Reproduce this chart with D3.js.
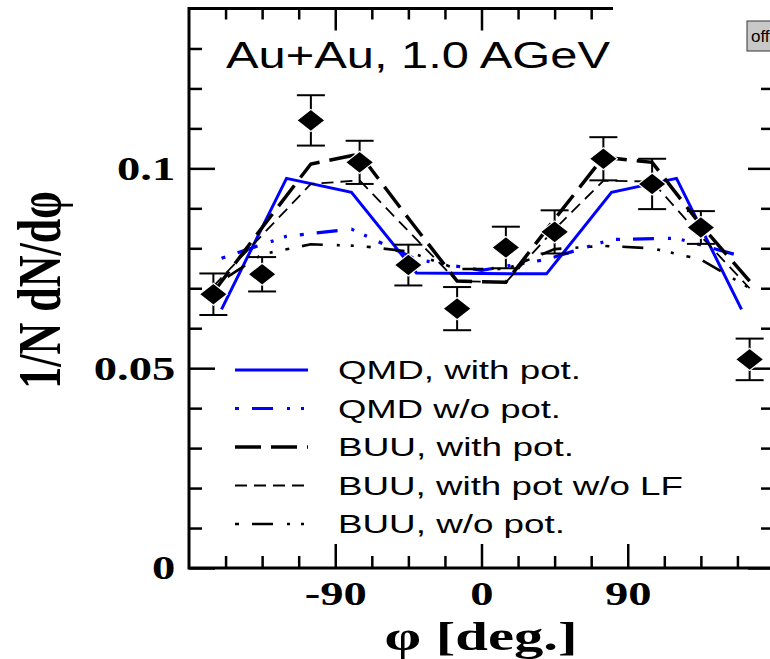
<!DOCTYPE html>
<html>
<head>
  <title>Au+Au 1.0 AGeV: 1/N dN/dphi</title>
  <style>
    body { margin: 0; background: #fff; }
    .axis path { display: none; }
    .axis line { stroke: #000; stroke-width: 2.5px; }
    .axis text {
      font-family: "Liberation Serif", "Times New Roman", serif;
      font-weight: bold;
      font-size: 34px;
      fill: #000;
    }
    .frame { fill: none; stroke: #000; stroke-width: 3px; }
    .curve { fill: none; }
    .errbar { stroke: #000; stroke-width: 2px; }
    .diamond { fill: #000; stroke: #fff; stroke-width: 1.2px; }
    .legend text, .title {
      font-family: "Liberation Sans", Arial, sans-serif;
      fill: #000;
    }
    .label {
      font-family: "Liberation Serif", "Times New Roman", serif;
      font-weight: bold;
      fill: #000;
    }
  </style>
</head>
<body>
  <svg id="chart" width="770" height="659"></svg>

  <script src="https://d3js.org/d3.v7.min.js"></script>
  <script>
    // measured points, 30 deg bins
    const dataAngle = [-165, -135, -105, -75, -45, -15, 15, 45, 75, 105, 135, 165];
    const dataValue = [0.0685, 0.0735, 0.1120, 0.1015, 0.0758, 0.0649, 0.0802, 0.0841, 0.1024, 0.0961, 0.0852, 0.0522];
    const dataError = [0.0052, 0.0043, 0.0063, 0.0054, 0.0051, 0.0054, 0.0052, 0.0054, 0.0054, 0.0063, 0.0041, 0.0052];

    // QMD curves, 40 deg bins
    const qmdAngle = [-160, -120, -80, -40, 0, 40, 80, 120, 160];
    const qmdPot = [0.0647, 0.0975, 0.0940, 0.0738, 0.0737, 0.0736, 0.0940, 0.0975, 0.0647];
    const qmdNoPot = [0.0775, 0.0830, 0.0848, 0.0772, 0.0745, 0.0772, 0.0822, 0.0825, 0.0780];

    // BUU curves, same bins as the data
    const buuPot = [0.0690, 0.0852, 0.1011, 0.1036, 0.0875, 0.0718, 0.0715, 0.0873, 0.1028, 0.1015, 0.0858, 0.0718];
    const buuPotNoLF = [0.0705, 0.0833, 0.0961, 0.0970, 0.0843, 0.0718, 0.0715, 0.0848, 0.0969, 0.0967, 0.0830, 0.0700];
    const buuNoPot = [0.0705, 0.0785, 0.0810, 0.0806, 0.0792, 0.0748, 0.0748, 0.0798, 0.0806, 0.0800, 0.0772, 0.0700];

    const xMajor = [-90, 0, 90];
    const xMinor = [-157.5, -135, -112.5, -67.5, -45, -22.5, 22.5, 45, 67.5, 112.5, 135, 157.5];
    const yMajor = [0, 0.05, 0.1];
    const yMinor = [0.01, 0.02, 0.03, 0.04, 0.06, 0.07, 0.08, 0.09, 0.11, 0.12, 0.13];

    const margin = { top: 8.5, left: 189 };
    const width = 585;
    const height = 559.5;

    const svg = d3.select("#chart");
    const g = svg.append("g").attr("transform", `translate(${margin.left},${margin.top})`);

    const x = d3.scaleLinear().domain([-180, 180]).range([0, width]);
    const y = d3.scaleLinear().domain([0, 0.14]).range([height, 0]);

    // axes, ticks pointing inwards
    g.append("g").attr("class", "axis").attr("transform", `translate(0,${height})`)
      .call(d3.axisBottom(x).tickValues(xMajor).tickSize(-24).tickPadding(13).tickFormat(d => String(d)))
      .selectAll("text").attr("transform", "scale(1.37,1)");
    g.append("g").attr("class", "axis").attr("transform", `translate(0,${height})`)
      .call(d3.axisBottom(x).tickValues(xMinor).tickSize(-12).tickFormat(""));
    g.append("g").attr("class", "axis")
      .call(d3.axisTop(x).tickValues(xMajor).tickSize(-22).tickFormat(""));
    g.append("g").attr("class", "axis")
      .call(d3.axisTop(x).tickValues(xMinor).tickSize(-11).tickFormat(""));

    g.append("g").attr("class", "axis")
      .call(d3.axisLeft(y).tickValues(yMajor).tickSize(-26).tickPadding(10).tickFormat(d => String(d)))
      .selectAll("text").attr("transform", "scale(1.37,1)");
    g.append("g").attr("class", "axis")
      .call(d3.axisLeft(y).tickValues(yMinor).tickSize(-13).tickFormat(""));
    g.append("g").attr("class", "axis").attr("transform", `translate(${width},0)`)
      .call(d3.axisRight(y).tickValues(yMajor).tickSize(-26).tickFormat(""));
    g.append("g").attr("class", "axis").attr("transform", `translate(${width},0)`)
      .call(d3.axisRight(y).tickValues(yMinor).tickSize(-13).tickFormat(""));

    // model curves
    const series = [
      { label: "QMD, with pot.", angle: qmdAngle, values: qmdPot, color: "#0000ff", w: 3, dash: null, textLen: 243 },
      { label: "QMD w/o pot.", angle: qmdAngle, values: qmdNoPot, color: "#0000ff", w: 3.2, dash: "4,13,21,14,3,11,3,13", textLen: 223 },
      { label: "BUU, with pot.", angle: dataAngle, values: buuPot, color: "#000", w: 3.5, dash: "26,10", textLen: 236 },
      { label: "BUU, with pot w/o LF", angle: dataAngle, values: buuPotNoLF, color: "#000", w: 1.8, dash: "12,7", textLen: 345 },
      { label: "BUU, w/o pot.", angle: dataAngle, values: buuNoPot, color: "#000", w: 2.6, dash: "4,13,21,14,3,11,3,13", textLen: 227 }
    ];

    const line = d3.line().x(d => x(d[0])).y(d => y(d[1]));

    g.selectAll(".curve")
      .data(series)
      .enter()
      .append("path")
      .attr("class", "curve")
      .attr("d", s => line(s.angle.map((a, i) => [a, s.values[i]])))
      .attr("stroke", s => s.color)
      .attr("stroke-width", s => s.w)
      .attr("stroke-dasharray", s => s.dash);

    // data with error bars
    const pts = dataAngle.map((a, i) => ({ a: a, v: dataValue[i], e: dataError[i] }));
    const bars = g.selectAll(".pt").data(pts).enter().append("g").attr("class", "pt");
    bars.append("line").attr("class", "errbar")
      .attr("x1", d => x(d.a)).attr("x2", d => x(d.a))
      .attr("y1", d => y(d.v - d.e)).attr("y2", d => y(d.v + d.e));
    bars.append("line").attr("class", "errbar")
      .attr("x1", d => x(d.a) - 14).attr("x2", d => x(d.a) + 14)
      .attr("y1", d => y(d.v + d.e)).attr("y2", d => y(d.v + d.e));
    bars.append("line").attr("class", "errbar")
      .attr("x1", d => x(d.a) - 14).attr("x2", d => x(d.a) + 14)
      .attr("y1", d => y(d.v - d.e)).attr("y2", d => y(d.v - d.e));
    bars.append("path").attr("class", "diamond")
      .attr("d", d => {
        const cx = x(d.a), cy = y(d.v);
        return `M${cx - 14},${cy}L${cx},${cy - 11}L${cx + 14},${cy}L${cx},${cy + 11}Z`;
      });

    // frame
    g.append("rect").attr("class", "frame").attr("width", width).attr("height", height);

    // legend
    const legendRows = [370, 408.5, 447, 485.5, 524];
    const legend = svg.append("g").attr("class", "legend");
    const items = legend.selectAll(".item").data(series).enter().append("g")
      .attr("transform", (d, i) => `translate(0,${legendRows[i]})`);
    items.append("line")
      .attr("x1", 235).attr("x2", 308).attr("y1", 0).attr("y2", 0)
      .attr("stroke", d => d.color)
      .attr("stroke-width", d => d.w)
      .attr("stroke-dasharray", d => d.dash);
    items.append("text")
      .attr("x", 338).attr("y", 9)
      .style("font-size", "25px")
      .attr("textLength", d => d.textLen)
      .attr("lengthAdjust", "spacingAndGlyphs")
      .text(d => d.label);

    // title inside the frame
    svg.append("text").attr("class", "title")
      .attr("x", 226).attr("y", 68)
      .style("font-size", "37px")
      .attr("textLength", 384)
      .attr("lengthAdjust", "spacingAndGlyphs")
      .text("Au+Au, 1.0 AGeV");

    // axis titles
    svg.append("text").attr("class", "label")
      .attr("x", 481).attr("y", 650)
      .attr("text-anchor", "middle")
      .style("font-size", "40px")
      .attr("textLength", 193)
      .attr("lengthAdjust", "spacingAndGlyphs")
      .text("φ [deg.]");

    svg.append("text").attr("class", "label")
      .attr("transform", "translate(60,290) scale(1.37,1) rotate(-90)")
      .attr("text-anchor", "middle")
      .style("font-size", "44px")
      .text("1/N dN/dφ");

    // the top right corner is covered in the source picture
    svg.append("rect").attr("x", 613).attr("y", 0).attr("width", 160).attr("height", 40).attr("fill", "#fff");
    svg.append("rect").attr("x", 747).attr("y", 21).attr("width", 30).attr("height", 30)
      .attr("fill", "#c8c8c8").attr("stroke", "#333").attr("stroke-width", 1);
    svg.append("text")
      .attr("x", 751).attr("y", 42)
      .style("font-family", "Liberation Sans, Arial, sans-serif")
      .style("font-size", "17px")
      .text("off");
  </script>
</body>
</html>
